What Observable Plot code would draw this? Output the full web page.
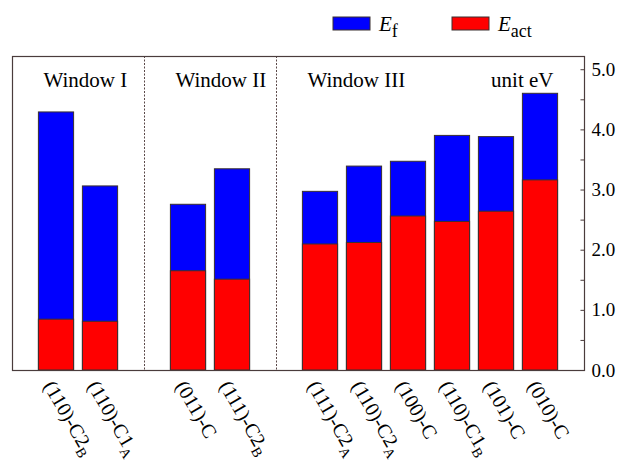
<!DOCTYPE html>
<html>
<head>
<meta charset="utf-8">
<script src="https://cdn.jsdelivr.net/npm/d3@7"></script>
<script src="https://cdn.jsdelivr.net/npm/@observablehq/plot@0.6"></script>
<style>
  html, body { margin: 0; padding: 0; background: white; }
  #chart { position: relative; width: 622px; height: 467px; }
  #chart svg, #chart svg text, #chart svg tspan { font-family: 'Liberation Serif', 'Times New Roman', serif !important; }
</style>
</head>
<body>
<div id="chart"></div>
<script>
// ---- data ----
const categories = ["(110)-C2", "(110)-C1", "(011)-C", "(111)-C2", "(111)-C2", "(110)-C2", "(100)-C", "(110)-C1", "(101)-C", "(010)-C"];
const subscripts = ["B", "A", "", "B", "A", "A", "", "B", "", ""];
const windowOf = [0, 0, 1, 1, 2, 2, 2, 2, 2, 2];
const ef   = [4.29, 3.06, 2.755, 3.345, 2.97, 3.39, 3.47, 3.90, 3.88, 4.60];
const eact = [0.845, 0.81, 1.65, 1.51, 2.095, 2.12, 2.56, 2.47, 2.64, 3.16];
const windowNames = ["Window I", "Window II", "Window III"];
const unitLabel = "unit eV";
const yTicks = [0, 1, 2, 3, 4, 5];
const yMinorTicks = [0, 0.5, 1, 1.5, 2, 2.5, 3, 3.5, 4, 4.5, 5];
const legendItems = [
  {main: "E", sub: "f", color: "#0000ff"},
  {main: "E", sub: "act", color: "#ff0000"}
];

// ---- derived layout (slots: one empty slot between windows) ----
const rows = categories.map((c, i) => ({label: c, slot: i + windowOf[i], ef: ef[i], eact: eact[i]}));
const lastSlot = d3.max(rows, d => d.slot);
const windowStart = windowNames.map((_, w) => {
  if (w === 0) return -1;
  const first = windowOf.indexOf(w);
  return first + w - 1;
});
const dividers = windowStart.slice(1);
const half = 0.4;

const serif = "'Liberation Serif', 'Times New Roman', serif";
const edge = "#4a3c3c";
const barStroke = "#3a3030";

const plot = Plot.plot({
  width: 622,
  height: 467,
  marginLeft: 12,
  marginRight: 38,
  marginTop: 56,
  marginBottom: 97,
  style: {fontFamily: serif, background: "white", color: "black"},
  x: {domain: [-1, lastSlot + 1], axis: null},
  y: {domain: [0, 5.22], axis: null},
  marks: [
    Plot.ruleX(dividers, {stroke: "#5a4848", strokeDasharray: "2,1.5", strokeWidth: 1}),
    Plot.rect(rows, {x1: d => d.slot - half, x2: d => d.slot + half, y1: 0, y2: "ef", fill: "#0000ff", stroke: barStroke, strokeWidth: 1}),
    Plot.rect(rows, {x1: d => d.slot - half, x2: d => d.slot + half, y1: 0, y2: "eact", fill: "#ff0000", stroke: barStroke, strokeWidth: 1}),
    Plot.frame({stroke: edge, strokeWidth: 1.2}),
    Plot.ruleY(yMinorTicks, {x1: lastSlot + 1, x2: lastSlot + 1 - 0.08, stroke: edge, strokeWidth: 1}),
    Plot.axisY(yTicks, {anchor: "right", tickSize: 0, tickPadding: 7, tickFormat: d => d.toFixed(1), fontSize: 19, label: null, fill: "black"}),
    Plot.text(windowNames, {x: (d, i) => windowStart[i], frameAnchor: "top", textAnchor: "start", lineAnchor: "top", dx: 31, dy: 16, fontSize: 21, fill: "black"}),
    Plot.text([unitLabel], {x: lastSlot + 1, frameAnchor: "top", textAnchor: "end", lineAnchor: "top", dx: -31, dy: 16, fontSize: 21, fill: "black"}),
    Plot.text(rows, {x: "slot", frameAnchor: "bottom", text: "label", rotate: 60, textAnchor: "start", lineAnchor: "middle", dx: -8, dy: 12, fontSize: 20, fill: "black", ariaDescription: "xlabels"})
  ]
});

const svg = d3.select(plot);
let labelNodes = svg.selectAll('g[aria-description="xlabels"] text').nodes();
if (labelNodes.length !== categories.length) {
  labelNodes = svg.selectAll("text").nodes().filter(n => /rotate\(60\)/.test(n.getAttribute("transform") || ""));
}
labelNodes.forEach((node, i) => {
  if (subscripts[i]) {
    d3.select(node).append("tspan").attr("font-size", 14).attr("dy", 5).text(subscripts[i]);
  }
});

// legend
const legendX = [333, 452];
legendItems.forEach((item, i) => {
  const g = svg.append("g");
  g.append("rect").attr("x", legendX[i]).attr("y", 17).attr("width", 37).attr("height", 13)
    .attr("fill", item.color).attr("stroke", barStroke).attr("stroke-width", 1);
  const t = g.append("text").attr("x", legendX[i] + 46).attr("y", 31).attr("text-anchor", "start")
    .attr("font-family", serif).attr("font-size", 21).attr("fill", "black");
  t.append("tspan").attr("font-style", "italic").text(item.main);
  t.append("tspan").attr("font-size", 18).attr("dy", 6).text(item.sub);
});

document.getElementById("chart").appendChild(plot);
</script>
</body>
</html>
